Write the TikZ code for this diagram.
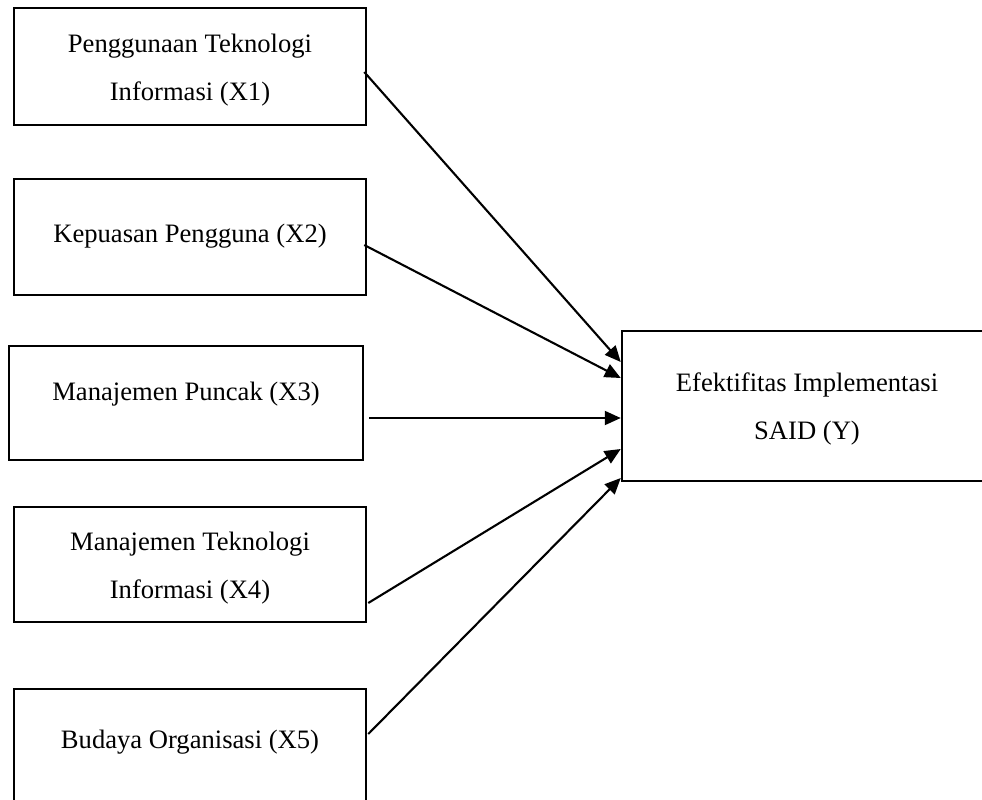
\documentclass[tikz,border=0pt]{standalone}
\usepackage{fontspec}
\setmainfont{Liberation Serif}
\usetikzlibrary{arrows.meta,calc}
\newcommand\twolines[3]{\raisebox{#1}{\begin{tabular}{@{}c@{}}#2\\#3\end{tabular}}}
\begin{document}
\begin{tikzpicture}[x=1pt,y=-1pt,
  varbox/.style={draw=black, line width=2.5pt, inner sep=0pt, align=center,
    font=\fontsize{26.6}{48}\selectfont},
  tdp/.style={text height=10pt, text depth=#1},
  conn/.style={line width=2.1pt, -{Triangle[length=16pt,width=14pt]}}]
\useasboundingbox[fill=white] (0,0) rectangle (982,800);
\node[varbox, minimum width=352pt, minimum height=117pt] (x1) at (190,66.5)
  {\twolines{7.1pt}{Penggunaan Teknologi}{Informasi (X1)}};
\node[varbox, tdp=0pt, minimum width=352pt, minimum height=116pt] (x2) at (190,237)
  {Kepuasan Pengguna (X2)};
\node[varbox, tdp=16pt, minimum width=354pt, minimum height=114pt] (x3) at (186,403)
  {Manajemen Puncak (X3)};
\node[varbox, minimum width=352pt, minimum height=115pt] (x4) at (190,564.5)
  {\twolines{7.1pt}{Manajemen Teknologi}{Informasi (X4)}};
\node[varbox, tdp=7pt, minimum width=352pt, minimum height=115pt] (x5) at (190,746.5)
  {Budaya Organisasi (X5)};
\node[varbox, minimum width=370pt, minimum height=150pt] (y) at (807,406)
  {\twolines{6.6pt}{Efektifitas Implementasi}{SAID (Y)}};
\draw[conn] ($(x1.east)+(-3,5.5)$) -- ($(y.west)+(0,-44)$);
\draw[conn] ($(x2.east)+(-3,8)$) -- ($(y.west)+(0,-28)$);
\draw[conn] ($(x3.east)+(5,15)$) -- ($(y.west)+(0,12)$);
\draw[conn] ($(x4.east)+(1,38.5)$) -- ($(y.west)+(0,43)$);
\draw[conn] ($(x5.east)+(1,-12.5)$) -- ($(y.west)+(0,72)$);
\end{tikzpicture}
\end{document}
